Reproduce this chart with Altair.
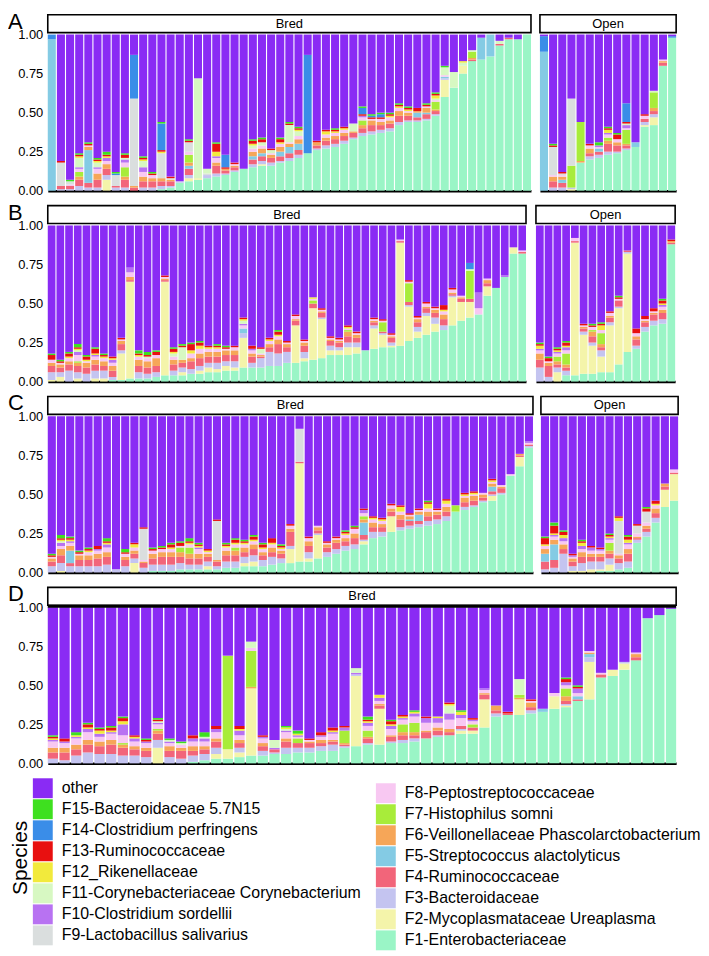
import altair as alt
import pandas as pd

# ---------------- species / colours ----------------
SPECIES_NAMES = [
    "F1-Enterobacteriaceae", "F2-Mycoplasmataceae Ureaplasma", "F3-Bacteroidaceae",
    "F4-Ruminococcaceae", "F5-Streptococcus alactolyticus",
    "F6-Veillonellaceae Phascolarctobacterium", "F7-Histophilus somni",
    "F8-Peptostreptococcaceae", "F9-Lactobacillus salivarius", "F10-Clostridium sordellii",
    "F11-Corynebacteriaceae Corynebacterium", "F12_Rikenellaceae", "F13-Ruminococcaceae",
    "F14-Clostridium perfringens", "F15-Bacteroidaceae 5.7N15", "other",
]
SPECIES_COLORS = [
    "#9AF5C6", "#F4F4AA", "#C4C4F0", "#F2657A", "#84CBE4", "#F6A658", "#A8EC3A",
    "#F8C8F2", "#DADEDE", "#B872F2", "#D7F8C2", "#F2EA3C", "#E81010", "#3A8DE8",
    "#3EE01F", "#8A2BF4",
]
LEGEND_COL1 = [16, 15, 14, 13, 12, 11, 10, 9]
LEGEND_COL2 = [8, 7, 6, 5, 4, 3, 2, 1]

# Bar compositions, percent per family code (F-number); "other" is the rest up to 100
A_BRED = [
    "5:97 14:3", "3:1 4:2 9:15 13:1", "3:1 4:2 8:1 9:2 15:1",
    "3:3 4:4 6:2 7:3 8:2 10:1 11:6 12:1 13:1 15:1", "3:2 4:3 5:21 6:2 8:1 13:1 15:1",
    "3:2 4:5 6:4 8:3 10:1 11:3 12:1 13:1 15:1", "2:7 3:3 4:4 6:3 8:2 10:2 12:1 13:1 15:2",
    "3:2 4:1 9:7 14:1 15:1", "3:2 4:5 6:2 7:6 8:3 10:2 11:1 13:2 15:1",
    "4:2 6:1 9:56 14:28", "3:2 4:4 6:3 8:3 10:3 11:4 12:1 13:1 15:1",
    "3:2 4:4 6:2 8:2 13:1 15:1", "1:1 3:2 4:3 6:2 9:16 12:1 13:1 14:17 15:1",
    "1:2 3:1 4:3 6:1 9:1 13:1", "1:5 3:1",
    "1:6 2:2 3:2 4:4 5:2 6:2 7:5 8:2 9:6 13:1 15:1", "1:7 2:1 11:64",
    "1:8 3:2 9:1 11:3", "1:9 3:2 4:5 6:2 8:3 10:1 12:3 13:5 15:1",
    "1:10 3:1 4:2 6:1 13:1 14:8", "1:12 3:1 4:2 6:1 8:1 13:1", "1:14",
    "1:15 3:2 4:3 5:2 6:3 8:2 11:2 12:1 13:2 15:1",
    "1:16 2:1 3:2 4:3 5:2 6:3 8:2 11:2 13:2 15:1", "1:16 3:2 4:3 6:2 8:1 11:2 13:1",
    "1:18 3:1 4:3 5:3 6:3 8:2 12:1 13:2 15:1", "1:19 3:2 4:3 5:4 6:2 8:1 11:11 13:1 15:1",
    "1:21 3:2 4:3 5:4 6:3 8:2 11:3 12:1 13:1 15:1", "1:24 14:63",
    "1:26 3:1 4:2 6:2 13:1", "1:27 3:2 4:3 6:2 8:2 12:2 13:1",
    "1:28 3:2 4:3 6:2 8:2 12:1 13:1 15:1", "1:30 3:2 4:3 6:2 8:2 12:1 13:1",
    "1:33 3:1 4:3 6:1 11:5", "1:35 3:2 4:3 6:2 7:3 8:2 10:1 13:1 14:4 15:1",
    "1:36 3:2 4:4 6:3 8:1 13:1 14:1 15:1", "1:37 3:2 4:3 6:2 8:2 13:1 14:2 15:1",
    "1:38 3:2 4:3 6:2 8:2 12:1 13:1 15:1", "1:42 3:2 4:4 6:3 8:2 12:1 13:1 15:1",
    "1:44 3:1 4:3 6:2 8:1 12:1 13:1 15:1", "1:44 3:1 4:2 5:3 6:1 13:2",
    "1:45 3:1 4:3 5:1 6:3 8:1 13:1 15:1", "1:48 3:1 4:2 6:1 7:5 8:1 11:1 12:2 13:1 15:1",
    "1:60 2:11 3:1 5:1 8:1 11:5 15:1", "1:66 11:10", "1:75 2:5 11:2 12:1",
    "1:83 4:1 6:1 7:4 11:1", "1:84 5:14", "1:86 5:14", "1:93 4:1 11:2", "1:97 4:1",
    "1:97", "1:100",
]
A_OPEN = [
    "5:89 14:10", "3:2 4:4 6:3 8:1 9:18 13:1 15:1", "3:2 4:3 5:2 6:2 8:1 9:1 13:1",
    "2:1 3:1 7:14 9:43", "1:18 6:1 7:25", "1:20 3:2 4:2 6:3 8:2 13:1",
    "1:21 3:2 4:2 5:2 8:1 10:1 15:2", "1:23 3:2 4:5 6:2 7:2 8:2 10:1 12:2 13:1 15:1",
    "1:24 3:1 4:4 6:2 8:2 13:3 15:1", "1:26 3:1 4:2 6:1 7:9 8:1 10:2 11:1 13:1 14:12",
    "1:28 5:3", "1:41 2:1 3:2 4:2 8:2 13:1", "1:42 2:5 3:2 4:2 6:2 7:10 11:1",
    "1:80 4:2 6:1 8:1", "1:98 14:1",
]
B_BRED = [
    "2:1 3:5 4:4 6:2 8:2 13:3 15:1", "2:3 3:3 4:3 6:2 8:1 13:1 15:1",
    "3:7 4:4 6:2 8:2 12:1 13:2 15:1", "2:2 3:4 4:4 6:2 7:1 8:4 10:2 11:1 12:1 13:1 15:2",
    "3:5 4:4 6:3 8:1 12:1 13:2 15:1", "2:2 3:5 4:4 6:3 8:2 10:1 12:1 13:3 15:1",
    "2:2 3:5 4:3 6:3 8:2 12:1 13:1 15:1", "1:1 3:2 4:4 6:3 8:2 10:2 12:1 13:1",
    "1:1 2:17 3:2 4:4 6:2 8:1 13:1", "1:2 2:62 4:1 6:2 8:3 10:3",
    "1:2 3:4 4:4 6:4 8:2 12:1 13:1 15:2", "1:2 3:3 4:4 6:4 8:2 11:1 13:1 15:2",
    "1:3 3:3 4:4 6:5 8:2 13:2 15:1", "1:4 2:60 4:1 6:1 8:1 13:1",
    "1:4 3:3 4:4 6:3 8:2 11:2 12:1 13:2 15:1", "1:4 2:2 3:3 4:3 6:2 11:8 13:1 15:1",
    "1:5 3:3 4:5 6:2 8:3 12:2 13:4 15:1", "1:5 2:2 3:3 4:5 6:3 8:3 12:2 13:2 15:1",
    "1:6 2:3 3:3 4:4 6:3 8:2 12:1 13:1", "1:6 2:2 3:4 4:4 6:3 8:2 12:1 13:1 15:1",
    "1:7 2:3 3:3 4:4 6:3 8:1 13:1 15:1", "1:7 2:2 3:4 4:4 6:3 8:2 13:1",
    "1:9 2:19 3:3 5:3 8:2 10:1 11:2 12:1 13:1", "1:9 3:3 4:4 6:2 8:2 10:1 13:2",
    "1:9 3:6 4:1 6:1 8:1 11:3 13:1", "1:10 3:9 4:3 6:2 8:2 12:1 13:1",
    "1:10 3:8 4:6 6:3 8:2 12:1 13:2 15:1", "1:12 3:7 4:3 6:2 8:1 13:1",
    "1:12 2:24 4:3 6:1 8:2 13:1", "1:13 2:2 3:4 4:4 6:2 8:1 13:1",
    "1:14 2:33 4:3 7:2 8:1 12:1", "1:15 2:25 3:1 4:3 6:1 8:1 13:1",
    "1:17 2:3 3:3 4:3 6:1 8:1 13:1", "1:17 2:3 3:2 4:3 6:1 8:1 13:1",
    "1:17 2:5 3:3 4:4 6:3 7:1 8:1 12:1 13:1", "1:18 2:4 3:3 4:3 6:2 8:1 13:1",
    "1:20", "1:21 2:13 3:2 4:2 6:1 8:1 13:1", "1:22 2:8 3:1 4:1 7:6 8:1 13:1",
    "1:22 2:1 3:2 4:3 6:1 8:1 13:1", "1:23 2:66 4:1 8:1",
    "1:26 2:22 3:1 4:2 7:12 8:1 13:1", "1:28 2:4 3:3 4:3 6:2 8:1 13:1",
    "1:30 2:12 3:2 4:3 6:1 8:2 13:1", "1:32 2:5 3:4 4:3 6:2 8:1 13:1",
    "1:33 3:3 4:4 6:3 8:2 12:1 13:3", "1:36 2:18 3:1 4:1 6:1 8:2 13:1",
    "1:39 2:12 4:2 6:1 8:1", "1:41 2:10 4:2 7:18 11:1 14:4", "1:43 8:4 10:10",
    "1:55 2:6 4:2 6:2 8:1", "1:60", "1:67 10:1", "1:82 2:4", "1:82 4:1 8:1",
]
B_OPEN = [
    "3:9 4:5 6:4 8:2 10:1 12:2 13:1 15:1", "3:3 4:7 6:2 8:1 13:2 15:1",
    "2:6 3:3 4:2 6:2 7:3 8:2 10:1 12:1 13:1 15:1",
    "1:4 3:3 4:2 6:2 7:7 8:2 10:2 12:1 13:2 15:1", "1:4 2:85 4:1 8:2",
    "1:5 2:25 3:2 4:2 6:1 8:1 13:1", "1:5 2:18 3:2 4:4 6:3 7:1 8:2 13:1 15:1",
    "1:6 2:10 3:4 4:2 6:2 7:7 8:2 12:3 13:1 15:1", "1:6 2:30 3:2 4:3 6:1 8:2 13:1",
    "1:11 2:36 3:1 4:4 8:1 13:1 15:1", "1:19 2:63 3:1 4:1",
    "1:21 3:2 4:4 6:2 8:2 13:3", "1:32 3:3 4:3 6:1 8:1 13:2",
    "1:36 3:3 4:4 6:1 8:1 13:2", "1:37 3:3 4:4 6:2 8:2 10:1 12:1 13:2 15:1",
    "1:88 4:1 6:1 13:1",
]
C_BRED = [
    "3:4 4:3 6:2 8:1 13:1 15:1", "2:1 3:5 4:5 6:4 8:2 10:2 11:1 12:1 13:1 15:2",
    "3:4 4:2 5:8 6:3 8:2 10:1 12:1 13:1 15:1", "3:4 4:4 6:3 8:1 13:1 15:1",
    "3:4 4:4 6:3 8:2 12:1 13:1 15:1", "3:4 4:5 6:3 8:2 10:1 13:2",
    "3:5 4:5 6:3 8:3 10:2 12:1 13:1 15:2", "3:2", "3:4 4:4 6:2 8:2 13:1 15:2",
    "2:6 3:3 4:3 6:2 8:2 12:2 13:1", "3:3 4:3 6:1 8:1 9:20 13:1",
    "1:1 3:4 4:4 6:3 8:2 13:1 15:1", "1:1 3:4 4:5 6:3 8:2 13:1 15:1",
    "1:1 3:4 4:5 6:3 8:2 12:1 13:2 15:1", "1:2 3:4 4:4 6:3 7:3 8:1 13:2 15:1",
    "1:2 3:3 4:4 6:3 7:4 8:2 12:1 13:1 15:2", "1:2 3:3 4:4 6:3 8:3 10:1 12:1 13:1 15:1",
    "1:2 2:2 3:3 4:3 6:2 8:1 12:1 13:1", "1:2 3:2 4:3 6:1 9:25 13:1",
    "1:3 3:4 4:4 6:3 8:2 12:1 13:1 15:1", "1:3 3:4 4:4 6:3 7:2 8:2 12:1 13:2 15:1",
    "1:4 2:2 3:4 4:3 6:3 8:2 12:1 13:1 15:1", "1:4 2:3 3:4 4:4 6:3 8:2 12:1 13:2 15:1",
    "1:4 3:4 4:3 6:2 8:2 12:1 13:2 15:1", "1:5 3:5 4:3 6:3 8:2 12:1 13:3",
    "1:6 3:3 4:3 6:2 8:1 12:1 13:1 15:1", "1:6 2:9 3:2 4:9 6:2 8:2 13:1",
    "1:7 2:63 4:1 9:21", "1:7 2:2 3:4 4:4 6:3 8:2 13:1", "1:9 2:15 3:1 4:2 6:2 8:1",
    "1:10 3:3 4:3 6:2 8:1 13:1", "1:12 3:3 4:4 6:2 8:1 13:1",
    "1:14 3:3 4:3 6:2 8:2 12:1 13:1 15:1", "1:15 3:3 4:4 6:3 8:3 13:1 15:1",
    "1:18 2:2 3:1 4:3 5:8 6:2 7:2 8:2 10:2 13:1", "1:22 3:4 4:3 6:3 8:2 12:1 13:1",
    "1:23 3:3 4:3 6:2 8:2 12:1 13:1", "1:26 2:10 4:3 6:2 8:2 13:1",
    "1:27 3:2 4:5 6:3 8:2 12:3 13:1", "1:28 3:2 4:3 5:1 6:2 8:1 13:1",
    "1:29 3:2 4:2 5:4 6:2 8:1 13:1", "1:30 3:3 4:3 6:3 8:2 12:3 13:1 15:1",
    "1:31 3:3 4:3 6:2 8:1 13:1", "1:33 3:3 4:3 6:3 8:2 12:2 13:1", "1:39 7:4",
    "1:40 3:2 4:3 6:3 8:1 12:1 13:1", "1:42 3:1 4:3 6:3 8:1 12:1 13:1",
    "1:45 3:1 4:2 6:2 8:1", "1:46 2:3 3:1 4:2 5:3 6:2 8:1 12:1 13:1",
    "1:50 3:1 4:3 6:1 8:1", "1:62 8:1", "1:68 2:6 4:1 6:1", "1:80 3:1 4:1 8:1 10:1",
]
C_OPEN = [
    "3:2 4:5 5:5 6:3 8:2 12:1 13:4 15:1", "3:3 4:5 5:10 6:3 8:2 10:1 12:1 13:5 15:2",
    "3:12 4:3 6:3 8:2 10:2 12:2 13:2 15:1", "2:1 3:3 4:3 6:2 8:1 10:1 13:1",
    "2:1 3:5 4:4 6:3 8:2 10:2 12:2 13:1 15:1", "2:2 3:5 4:3 6:2 8:2 10:2 13:1",
    "1:1 2:1 3:5 4:3 6:2 8:2 10:1 13:1", "1:1 2:4 3:4 4:3 6:2 7:5 8:2 10:1 12:1 13:1 15:1",
    "1:2 3:4 4:3 6:2 8:1 9:21 12:2 13:1", "1:3 3:4 4:5 6:3 8:3 10:1 12:2 13:2 15:1",
    "1:19 3:2 4:1 6:1 8:2 9:5 13:1", "1:23 3:3 4:2 6:2 8:2 9:7 13:2 15:1",
    "1:32 3:3 4:3 6:3 8:2 12:1 13:2", "1:42 2:11 4:2 6:2", "1:46 2:17 4:1 8:2",
]
D_BRED = [
    "3:3 4:4 6:3 8:4 10:1 12:1 13:1 15:1", "3:2 4:5 6:3 8:3 10:1 13:2",
    "3:5 4:4 6:3 8:4 10:1 12:1 15:2", "3:7 4:5 6:3 8:5 10:2 12:1 13:2 15:1",
    "3:6 4:5 6:3 8:3 10:2 12:2 13:1 15:1", "3:6 4:6 6:3 8:4 10:1 12:1 13:2 15:1",
    "3:5 4:5 6:2 7:1 8:5 10:7 12:2 13:2 15:1", "3:5 4:4 6:2 8:3 10:2 12:1 13:1",
    "3:4 4:4 6:2 8:3 10:1 13:1 15:1", "2:10 3:5 4:4 6:2 7:1 8:3 10:1 11:1 13:1 15:1",
    "3:4 4:4 6:3 8:2 10:1 11:1 15:1", "3:3 4:5 6:2 8:2 11:1 15:1",
    "1:1 3:4 4:3 6:3 8:3 10:2 13:2", "1:2 3:4 4:3 6:2 8:3 10:2 11:1 15:3",
    "1:3 2:3 3:4 4:4 6:2 8:4 10:2 13:2", "1:3 2:6 7:60",
    "1:4 2:3 3:3 4:3 6:2 8:3 10:3 12:1 13:2", "1:5 2:43 6:1 7:23 8:2 11:4",
    "1:5 3:3 4:3 6:2 8:3 10:1 13:1", "1:6 3:1 4:2 10:1 11:5",
    "1:6 3:4 4:4 6:2 8:4 10:1 11:1 12:1 15:1", "1:7 3:3 4:3 7:3 8:1 10:1 12:1 15:2",
    "1:7 3:3 4:3 6:1 8:1 13:1", "1:8 3:3 4:2 6:2 8:2 10:1 13:2",
    "1:8 3:4 4:2 6:1 8:4 10:1 12:1 13:2", "1:10 3:1 4:1 6:1 7:8 10:2 13:1",
    "1:11 2:45 3:1 10:1 11:3", "1:12 3:1 4:3 6:1 7:4 8:3 10:2 12:1 13:1 15:2",
    "1:12 2:23 4:2 6:1 8:2 10:2 12:2", "1:13 3:1 4:3 6:1 8:4 10:2 12:1 13:2 15:1",
    "1:13 3:2 4:3 6:2 7:5 8:3 10:1 12:1 13:1", "1:14 3:2 4:2 6:2 7:6 8:4 10:2 12:1 15:1",
    "1:16 4:4 6:1 8:5 10:3 13:1", "1:17 3:1 4:3 6:2 8:3 10:3 12:1",
    "1:18 4:2 6:2 8:6 10:4 11:5 12:1 13:1", "1:19 2:2 3:1 4:2 8:5 10:2 12:2 15:1",
    "1:19 2:2 4:2 7:2 8:2 10:1 13:1", "1:23 2:18 4:3 6:1 8:2 10:1",
    "1:30 3:2 4:2 6:3", "1:31 4:1 13:1", "1:31 2:10 6:1 7:2 11:10",
    "1:32 3:2 4:2 6:3 8:1 13:1", "1:33 5:2", "1:35 2:8 8:2",
    "1:36 2:1 3:1 4:2 6:3 7:5 8:2 10:2 13:2 15:1", "1:40 4:1 5:2 8:2 10:3 13:1 15:1",
    "1:41 2:24 3:3 5:2 6:1 8:1", "1:55 4:2 8:1", "1:56 2:4", "1:60 2:4 3:1",
    "1:66 4:2 6:2 8:1", "1:93", "1:95", "1:99",
]

FONT = "Liberation Sans"

color_scale = alt.Scale(domain=SPECIES_NAMES, range=SPECIES_COLORS)

H = 157
HDR_TOP, HDR_BOT = -20, -2


def to_frame(bars):
    rows = []
    for i, s in enumerate(bars):
        parts = dict((int(k), float(v)) for k, v in (p.split(":") for p in s.split()))
        total = sum(parts.values())
        for code in range(1, 16):
            if parts.get(code):
                rows.append({"bar": i, "species": SPECIES_NAMES[code - 1],
                             "value": parts[code] / 100.0, "ord": code})
        rows.append({"bar": i, "species": "other",
                     "value": max(0.0, 100.0 - total) / 100.0, "ord": 16})
    return pd.DataFrame(rows)


def panel(bars, width, label, letter=None, yaxis=True, thick=False):
    df = to_frame(bars)
    y_axis = alt.Axis(values=[0, 0.25, 0.5, 0.75, 1.0], format=".2f", ticks=False,
                      domain=False, grid=False, title=None, labelFontSize=13,
                      labelFont=FONT, labelColor="black", labelPadding=5) if yaxis else None
    bars_layer = alt.Chart(df).mark_bar().encode(
        x=alt.X("bar:O", scale=alt.Scale(paddingInner=0.12, paddingOuter=0),
                axis=alt.Axis(labels=False, ticks=False, title=None, grid=False,
                              domainColor="black", domainWidth=2.5)),
        y=alt.Y("value:Q", stack="zero", scale=alt.Scale(domain=[0, 1], nice=False),
                axis=y_axis),
        color=alt.Color("species:N", scale=color_scale, legend=None),
        order=alt.Order("ord:Q", sort="ascending"),
    )
    hdr = pd.DataFrame({"t": [label]})
    box = alt.Chart(hdr).mark_rect(fill="white", stroke="black", strokeWidth=1.6).encode(
        x=alt.value(0), x2=alt.value(width), y=alt.value(HDR_TOP), y2=alt.value(HDR_BOT))
    txt = alt.Chart(hdr).mark_text(fontSize=13, font=FONT, baseline="middle",
                                   align="center", color="black").encode(
        x=alt.value(width / 2), y=alt.value((HDR_TOP + HDR_BOT) / 2), text="t:N")
    layers = [bars_layer, box, txt]
    if thick:
        layers.append(alt.Chart(hdr).mark_rule(color="black", strokeWidth=3).encode(
            x=alt.value(0), x2=alt.value(width), y=alt.value(-1)))
    if letter:
        let = pd.DataFrame({"t": [letter]})
        layers.append(alt.Chart(let).mark_text(fontSize=22, font=FONT, align="left",
                                               baseline="alphabetic", color="black").encode(
            x=alt.value(-40), y=alt.value(-6), text="t:N"))
    return alt.layer(*layers).properties(width=width, height=H)


# ---------------- legend (two columns, as in the reference) ----------------
leg_rows = []
for r, code in enumerate(LEGEND_COL1):
    leg_rows.append({"col": 0, "row": r, "species": SPECIES_NAMES[code - 1]})
for r, code in enumerate(LEGEND_COL2):
    leg_rows.append({"col": 1, "row": r, "species": SPECIES_NAMES[code - 1]})
leg_df = pd.DataFrame(leg_rows)

LEG_W, LEG_H = 600, 160
lx = alt.X("col:Q", scale=alt.Scale(domain=[0, 1], range=[-5, 340]), axis=None)
ly = alt.Y("row:Q", scale=alt.Scale(domain=[0, 7], range=[10, 158]), axis=None)
leg_layers = []
for c, off in ((0, 0), (1, 5)):
    base = alt.Chart(leg_df).transform_filter(f"datum.col == {c}")
    leg_layers.append(base.mark_square(size=400, opacity=1, yOffset=off).encode(
        x=lx, y=ly, color=alt.Color("species:N", scale=color_scale, legend=None)))
    leg_layers.append(base.mark_text(align="left", baseline="middle", dx=19, dy=off,
                                     fontSize=16, font=FONT, color="black").encode(
        x=lx, y=ly, text="species:N"))
title_df = pd.DataFrame({"t": ["Species"]})
leg_layers.append(alt.Chart(title_df).mark_text(
    angle=270, fontSize=21, font=FONT, align="center", baseline="middle", color="black"
).encode(x=alt.value(-27), y=alt.value(80), text="t:N"))
legend_chart = alt.layer(*leg_layers).properties(width=LEG_W, height=LEG_H)

rowA = alt.hconcat(panel(A_BRED, 486, "Bred", "A"), panel(A_OPEN, 137, "Open", yaxis=False),
                   spacing=7).resolve_scale(x="independent")
rowB = alt.hconcat(panel(B_BRED, 481, "Bred", "B"), panel(B_OPEN, 140, "Open", yaxis=False),
                   spacing=8).resolve_scale(x="independent")
rowC = alt.hconcat(panel(C_BRED, 488, "Bred", "C"), panel(C_OPEN, 138, "Open", yaxis=False),
                   spacing=6).resolve_scale(x="independent")
rowD = panel(D_BRED, 632, "Bred", "D", thick=True)

rows = alt.vconcat(rowA, rowB, rowC, rowD, spacing=4).resolve_scale(x="independent")
chart = alt.vconcat(rows, legend_chart, spacing=8).resolve_scale(
    x="independent", y="independent", color="shared"
).properties(padding=0).configure_view(strokeWidth=0).configure_axis(grid=False)

chart.save("out.html", embed_options={"renderer": "svg", "actions": False})
